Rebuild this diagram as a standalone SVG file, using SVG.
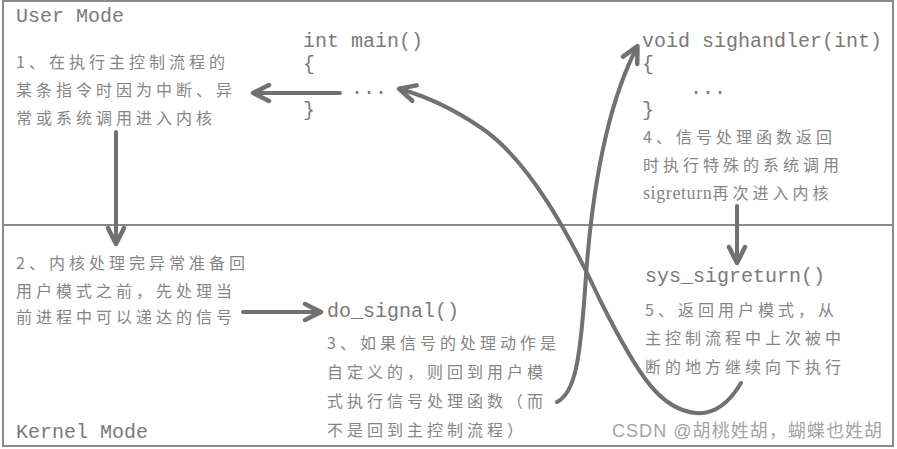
<svg xmlns="http://www.w3.org/2000/svg" width="897" height="449" viewBox="0 0 897 449">
<defs>
<style>
.frame{fill:#fff;stroke:#8a8a8a;stroke-width:2}
.div{stroke:#8a8a8a;stroke-width:2}
.mono{font-family:"Liberation Mono","DejaVu Sans Mono",monospace;font-size:20px;fill:#7a7a7a}
.cn{font-family:"Noto Sans CJK SC",sans-serif;font-size:16px;letter-spacing:4px;fill:#858585}
.ser{font-family:"Liberation Serif",serif;font-size:18px;letter-spacing:0.6px}
.wm{font-family:"Liberation Sans","Noto Sans CJK SC",sans-serif;font-size:18px;fill:#a3a3a3}
.ar{fill:none;stroke:#717171;stroke-width:4;stroke-linecap:round}
</style>
<marker id="ah" markerUnits="userSpaceOnUse" markerWidth="40" markerHeight="40" refX="0" refY="0" orient="auto" overflow="visible">
<path d="M-15,-8 L1,0 L-15,8" fill="none" stroke="#717171" stroke-width="4.5" stroke-linecap="round" stroke-linejoin="round"/>
</marker>
</defs>
<rect class="frame" x="3" y="1" width="890" height="445"/>
<line class="div" x1="3" y1="225" x2="893" y2="225"/>

<g id="user-mode"><text class="mono" x="16" y="22">User Mode</text></g>
<g id="kernel-mode"><text class="mono" x="16" y="438">Kernel Mode</text></g>

<g id="step1">
<text class="cn" x="16" y="68">1、在执行主控制流程的</text>
<text class="cn" x="16" y="96">某条指令时因为中断、异</text>
<text class="cn" x="16" y="124">常或系统调用进入内核</text>
</g>

<g id="main">
<text class="mono" x="303" y="47">int main()</text>
<text class="mono" x="303" y="70">{</text>
<text class="mono" x="303" y="94" xml:space="preserve">    ...</text>
<text class="mono" x="303" y="116">}</text>
</g>

<g id="sighandler">
<text class="mono" x="642" y="47">void sighandler(int)</text>
<text class="mono" x="642" y="70">{</text>
<text class="mono" x="642" y="94" xml:space="preserve">    ...</text>
<text class="mono" x="642" y="116">}</text>
</g>

<g id="step4">
<text class="cn" x="643" y="143">4、信号处理函数返回</text>
<text class="cn" x="643" y="171">时执行特殊的系统调用</text>
<text class="cn" x="643" y="199"><tspan class="ser">sigreturn</tspan>再次进入内核</text>
</g>

<g id="step2">
<text class="cn" x="16" y="269">2、内核处理完异常准备回</text>
<text class="cn" x="16" y="297">用户模式之前，先处理当</text>
<text class="cn" x="16" y="323">前进程中可以递达的信号</text>
</g>

<g id="do-signal">
<text class="mono" x="327" y="317">do_signal()</text>
</g>

<g id="step3">
<text class="cn" x="327" y="349">3、如果信号的处理动作是</text>
<text class="cn" x="327" y="378">自定义的，则回到用户模</text>
<text class="cn" x="327" y="407">式执行信号处理函数（而</text>
<text class="cn" x="327" y="436">不是回到主控制流程）</text>
</g>

<g id="sys-sigreturn">
<text class="mono" x="645" y="282">sys_sigreturn()</text>
</g>

<g id="step5">
<text class="cn" x="645" y="316">5、返回用户模式，从</text>
<text class="cn" x="645" y="344">主控制流程中上次被中</text>
<text class="cn" x="645" y="373">断的地方继续向下执行</text>
</g>

<g id="connectors">
<path class="ar" d="M340,93 L254,93" marker-end="url(#ah)"/>
<path class="ar" d="M116,132 L116,243" marker-end="url(#ah)"/>
<path class="ar" d="M243,312 L320,312" marker-end="url(#ah)"/>
<path class="ar" d="M737,206 L737,262" marker-end="url(#ah)"/>
<path class="ar" d="M557,402 C575,393 580,360 585,290 C590,210 602,115 637,47" marker-end="url(#ah)"/>
<path class="ar" d="M741,383 C725,410 708,414 696,413 C662,410 640,380 600,300 C572,240 530,160 480,127 C452,108 425,96 400,89" marker-end="url(#ah)"/>
</g>

<g id="watermark"><text class="wm" x="612" y="437" textLength="270" lengthAdjust="spacing">CSDN @胡桃姓胡，蝴蝶也姓胡</text></g>
</svg>
